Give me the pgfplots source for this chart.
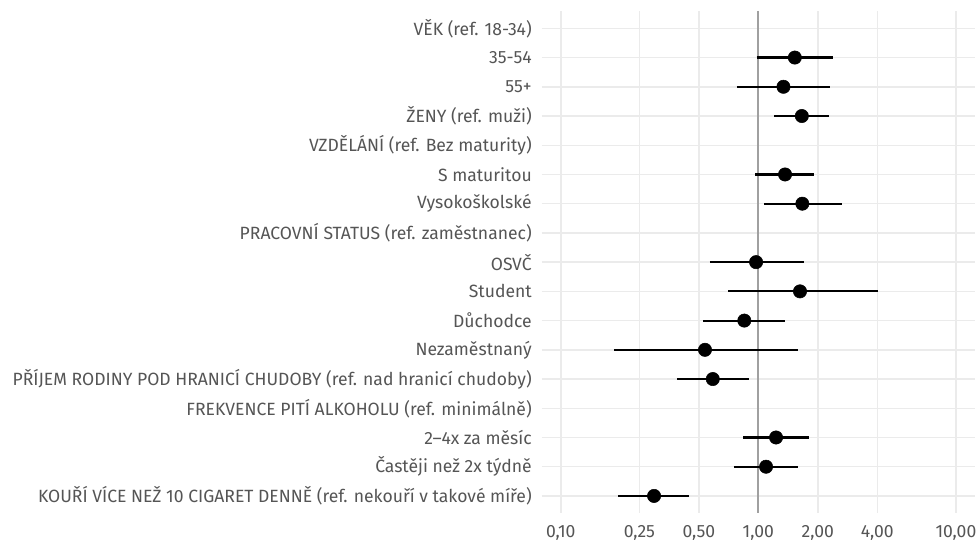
\documentclass[border=0pt]{standalone}
\usepackage{pgfplots}
\pgfplotsset{compat=1.18}
\usepackage{pgfplotstable}
\usepackage{fontspec}
\setmainfont{Fira Sans}[FakeStretch=0.99]
\definecolor{gridc}{HTML}{EBEBEB}
\definecolor{labc}{HTML}{555555}
\definecolor{refc}{HTML}{A0A0A0}

\pgfplotstableread{
y est lo hi
1 1.53 0.98 2.40
2 1.34 0.778 2.31
3 1.66 1.205 2.29
5 1.365 0.962 1.92
6 1.67 1.07 2.64
8 0.974 0.569 1.70
9 1.625 0.705 4.05
10 0.849 0.527 1.365
11 0.537 0.186 1.58
12 0.588 0.389 0.90
14 1.229 0.839 1.81
15 1.094 0.753 1.594
16 0.2966 0.1956 0.4477
}\datatable

\begin{document}
\begin{tikzpicture}
\useasboundingbox (0,0) rectangle (733.5pt,405pt);
\begin{axis}[
  at={(406.3pt,19.9pt)}, anchor=south west,
  scale only axis, width=325pt, height=377pt,
  xmode=log, log basis x=10,
  xmin=0.0801, xmax=12.5,
  ymin=-0.6, ymax=16.6, y dir=reverse,
  xtick={0.1,0.25,0.5,1,2,4,10},
  xticklabels={{0,10},{0,25},{0,50},{1,00},{2,00},{4,00},{10,00}},
  minor xtick={}, minor ytick={},
  ytick={0,1,...,16},
  yticklabels={
    {VĚK (ref. 18-34)},
    {35-54},
    {55+},
    {ŽENY (ref. muži)},
    {VZDĚLÁNÍ (ref. Bez maturity)},
    {S maturitou},
    {Vysokoškolské},
    {PRACOVNÍ STATUS (ref. zaměstnanec)},
    {OSVČ},
    {Student},
    {Důchodce},
    {Nezaměstnaný},
    {PŘÍJEM RODINY POD HRANICÍ CHUDOBY (ref. nad hranicí chudoby)},
    {FREKVENCE PITÍ ALKOHOLU (ref. minimálně)},
    {2–4x za měsíc},
    {Častěji než 2x týdně},
    {KOUŘÍ VÍCE NEŽ 10 CIGARET DENNĚ (ref. nekouří v takové míře)}
  },
  axis line style={draw=none},
  tick style={draw=none},
  major tick length=0pt,
  xmajorgrids, ymajorgrids,
  major grid style={draw=gridc, line width=1.1pt},
  tick label style={font=\fontsize{13.3}{15}\selectfont, text=labc},
  yticklabel style={inner sep=0pt, anchor=east, xshift=-7.3pt},
  xticklabel style={inner sep=0pt, anchor=north, yshift=-8.5pt},
  clip=false,
]
\addplot[refc, line width=1.3pt] coordinates {(1,-0.6) (1,16.6)};
\addplot[black, line width=1.6pt] coordinates {(0.98,1) (2.40,1)};
\addplot[black, line width=1.6pt] coordinates {(0.778,2) (2.31,2)};
\addplot[black, line width=1.6pt] coordinates {(1.205,3) (2.29,3)};
\addplot[black, line width=1.6pt] coordinates {(0.962,5) (1.92,5)};
\addplot[black, line width=1.6pt] coordinates {(1.07,6) (2.64,6)};
\addplot[black, line width=1.6pt] coordinates {(0.569,8) (1.70,8)};
\addplot[black, line width=1.6pt] coordinates {(0.705,9) (4.05,9)};
\addplot[black, line width=1.6pt] coordinates {(0.527,10) (1.365,10)};
\addplot[black, line width=1.6pt] coordinates {(0.186,11) (1.58,11)};
\addplot[black, line width=1.6pt] coordinates {(0.389,12) (0.90,12)};
\addplot[black, line width=1.6pt] coordinates {(0.839,14) (1.81,14)};
\addplot[black, line width=1.6pt] coordinates {(0.753,15) (1.594,15)};
\addplot[black, line width=1.6pt] coordinates {(0.1956,16) (0.4477,16)};
\addplot[only marks, mark=*, mark size=5pt, black] table[x=est, y=y] {\datatable};
\end{axis}
\end{tikzpicture}
\end{document}
